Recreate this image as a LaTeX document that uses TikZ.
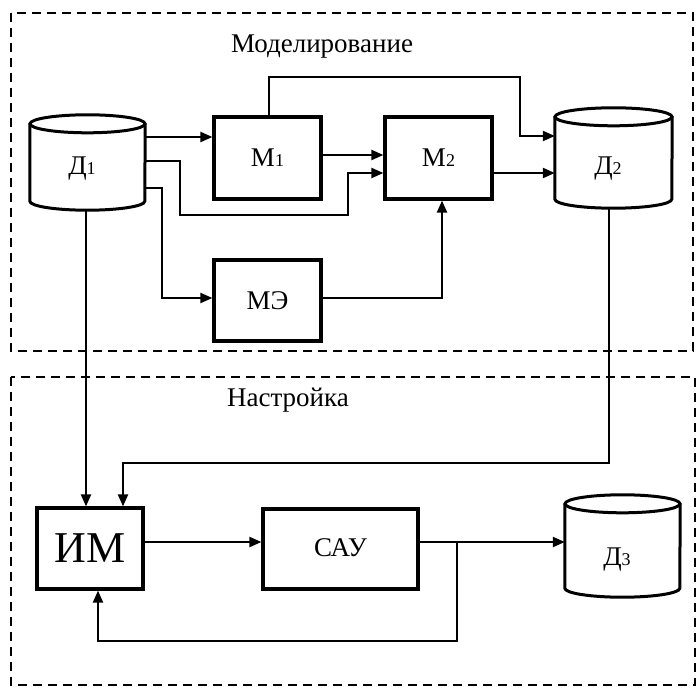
\documentclass[tikz,border=0pt]{standalone}
\usepackage{fontspec}
\setmainfont{Liberation Serif}
\usetikzlibrary{arrows.meta}
\newcommand\mycyl[5]{%
  \node[minimum width=#4pt, minimum height=#5pt, inner sep=0pt, draw=none] (#1) at (#2,#3) {};
  \draw[cylline] ([yshift=-9pt]#1.north west) -- ([yshift=9pt]#1.south west)
     arc[start angle=180, end angle=360, x radius=#4pt/2, y radius=9pt]
     -- ([yshift=-9pt]#1.north east);
  \draw[cylline] ([yshift=-9pt]#1.north) ellipse[x radius=#4pt/2, y radius=9pt];
}
\newcommand\sub[1]{{\fontsize{18}{18}\selectfont #1}}
\tikzset{
  blk/.style={draw, line width=3.2pt, inner sep=0pt, font=\fontsize{27}{27}\selectfont},
  cylline/.style={line width=3pt},
  lbl/.style={inner sep=0pt, font=\fontsize{27}{27}\selectfont},
  arr/.style={line width=2.2pt, -{Triangle[length=12pt,width=10pt]}},
  frame/.style={line width=2.4pt, dash pattern=on 9pt off 6pt},
}
\begin{document}
\begin{tikzpicture}[x=1pt, y=-1pt]
\useasboundingbox (0,0) rectangle (697,690);
% frames
\draw[frame] (11,13) rectangle (693,351);
\draw[frame] (11,377) rectangle (695,685);
\node[lbl] (tmod) at (322,47) {Моделирование};
\node[lbl] (tnas) at (288,400) {Настройка};
% cylinders
\mycyl{d1}{87.5}{162.5}{115}{95}
\mycyl{d2}{613.5}{158}{117}{100}
\mycyl{d3}{622.5}{546}{115}{102}
\node[lbl] (d1t) at (82,169) {Д\sub{1}};
\node[lbl] (d2t) at (608,169) {Д\sub{2}};
\node[lbl] (d3t) at (617,560) {Д\sub{3}};
% blocks
\node[blk, minimum width=107pt, minimum height=82pt] (m1) at (267.5,158) {М\sub{1}};
\node[blk, minimum width=107pt, minimum height=82pt] (m2) at (438.5,158) {М\sub{2}};
\node[blk, minimum width=107pt, minimum height=81pt] (me) at (267.5,300.5) {МЭ};
\node[blk, minimum width=106pt, minimum height=81pt, font=\fontsize{44}{44}\selectfont] (im) at (90,548.5) {\raisebox{-5pt}{ИМ}};
\node[blk, minimum width=155pt, minimum height=80pt] (sau) at (340.5,549) {\raisebox{3pt}{САУ}};
\coordinate (br) at (457,542);
% connectors
\draw[arr] (d1.east |- 0,137) -- (m1.west |- 0,137);
\draw[arr] (d1.east |- 0,161) -- (180,161) -- (180,215) -- (348,215) -- (348,173) -- (m2.west |- 0,173);
\draw[arr] (m1.east |- 0,155) -- (m2.west |- 0,155);
\draw[arr] (d1.east |- 0,188) -- (162,188) -- (162,298) -- (me.west |- 0,298);
\draw[arr] (me.east |- 0,298) -- (442,298) -- (m2.south -| 442,0);
\draw[arr] (m1.north -| 269,0) -- (269,77) -- (520,77) -- (520,136) -- (d2.west |- 0,136);
\draw[arr] (m2.east |- 0,173) -- (d2.west |- 0,173);
\draw[arr] (d2.south -| 609,0) -- (609,463) -- (123,463) -- (im.north -| 123,0);
\draw[arr] (d1.south -| 86,0) -- (im.north -| 86,0);
\draw[arr] (im.east |- 0,542) -- (sau.west |- 0,542);
\draw[arr] (sau.east |- 0,542) -- (d3.west |- 0,542);
\draw[arr] (br) -- (br |- 0,641) -- (98,641) -- (im.south -| 98,0);
\end{tikzpicture}
\end{document}
